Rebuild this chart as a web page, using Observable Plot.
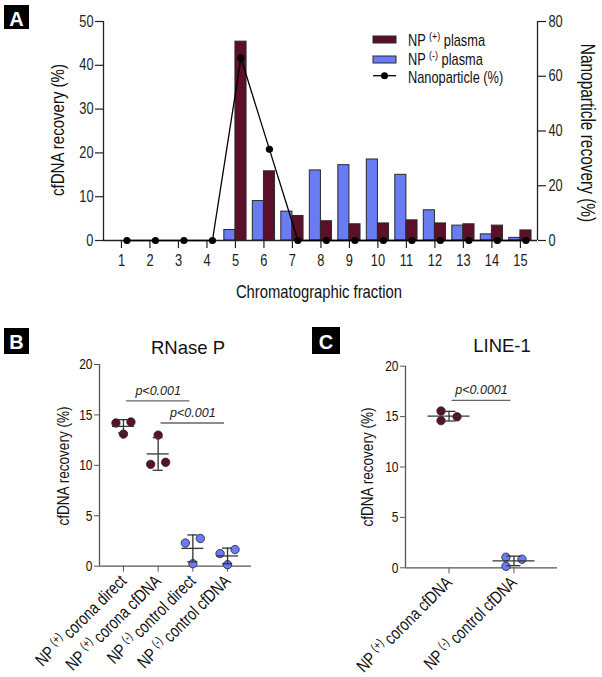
<!DOCTYPE html>
<html><head><meta charset="utf-8">
<script src="https://cdn.jsdelivr.net/npm/d3@7"></script>
<script src="https://cdn.jsdelivr.net/npm/@observablehq/plot@0.6"></script>
<style>
body{margin:0;background:#fff}
#root{position:relative;width:602px;height:677px;overflow:hidden;background:#fff}
#root svg{position:absolute}
</style></head><body><div id="root"></div>
<script>
// ---------- Panel A data ----------
const fractions = [1,2,3,4,5,6,7,8,9,10,11,12,13,14,15];
const npPlusPlasma  = [0,0,0,0,45.4,15.8,5.6,4.4,3.7,3.9,4.6,3.9,3.7,3.4,2.3];
const npMinusPlasma = [0,0,0,0,2.4,9.0,6.6,16.0,17.2,18.5,15.0,6.9,3.4,1.4,0.6];
const nanoparticleRecovery = [0,0,0,0,66.7,33.3,0,0,0,0,0,0,0,0,0];
const leftTicksA = [0,10,20,30,40,50];
const rightTicksA = [0,20,40,60,80];
const legendLabels = ["NP (+) plasma","NP (-) plasma","Nanoparticle (%)"];

// ---------- Panel B data (RNase P) ----------
const rnaseCats = ["NP (+) corona direct","NP (+) corona cfDNA","NP (-) control direct","NP (-) control cfDNA"];
const rnaseGroups = ["plus","plus","minus","minus"];
const rnaseValues = [[14.2,14.3,13.1],[13.0,10.1,10.3],[2.3,2.75,0.25],[1.25,1.65,0.15]];
const rnaseSides  = [[-1,1,0],[0,-1,1],[-1,1,0],[-1,1,0]];
const rnaseSigFrom = [0,1], rnaseSigTo = [2,3], rnaseSigY = [16.4,14.2], rnaseSigText = ["p<0.001","p<0.001"];

// ---------- Panel C data (LINE-1) ----------
const lineCats = ["NP (+) corona cfDNA","NP (-) control cfDNA"];
const lineGroups = ["plus","minus"];
const lineValues = [[15.55,14.6,14.98],[1.05,0.85,0.15]];
const lineSides  = [[-1,-1,1],[-1,1,-1]];
const lineSigFrom = [0], lineSigTo = [1], lineSigY = [16.6], lineSigText = ["p<0.0001"];
const yTicksBC = [0,5,10,15,20];

// ---------- style ----------
const MAROON = "#5c0f29", BLUE = "#6a7cf3";
const SANS = "'Liberation Sans',Arial,sans-serif";
const K = 0.8; // horizontal condensing of the narrow type
const SVGNS = "http://www.w3.org/2000/svg";
const root = document.getElementById("root");

function supify(svg){
  svg.querySelectorAll("text").forEach(t=>{
    if (t.querySelector("tspan")) return;
    const m = t.textContent.match(/^(.*?)(\([+-]\))(.*)$/);
    if (!m) return;
    while (t.firstChild) t.removeChild(t.firstChild);
    t.appendChild(document.createTextNode(m[1]));
    const s = document.createElementNS(SVGNS,"tspan");
    s.setAttribute("dy","-0.5em"); s.setAttribute("font-size","0.7em"); s.textContent = m[2];
    const r = document.createElementNS(SVGNS,"tspan");
    r.setAttribute("dy","0.35em"); r.textContent = m[3];
    t.appendChild(s); t.appendChild(r);
  });
}
// squeeze axis texts horizontally (after the svg is in the DOM)
function condenseLen(svg){
  svg.querySelectorAll('g[aria-label*="axis"] text').forEach(t=>{
    const L = t.getComputedTextLength();
    if (L>0){ t.setAttribute("textLength", (L*K).toFixed(2)); t.setAttribute("lengthAdjust","spacingAndGlyphs"); }
  });
}
function place(el,left,top){ el.style.left = left+"px"; el.style.top = top+"px"; root.appendChild(el); return el; }

// ---------- Panel A ----------
const xDomA = [0.37,15.6];
const marginsA = {width:602,height:310,marginTop:21,marginRight:65,marginBottom:70,marginLeft:103};
const bars = [];
fractions.forEach((f,i)=>{
  if (npMinusPlasma[i]>0) bars.push({f, v:npMinusPlasma[i], s:"minus"});
  if (npPlusPlasma[i]>0) bars.push({f, v:npPlusPlasma[i], s:"plus"});
});
const BW = 0.39;
const plotA = Plot.plot({
  ...marginsA,
  x:{domain:xDomA}, y:{domain:[0,50]},
  style:{background:"transparent",fontFamily:SANS,fontSize:"16px",color:"#222",overflow:"visible"},
  marks:[
    Plot.rect(bars,{x1:d=>d.s==="minus"?d.f-BW:d.f, x2:d=>d.s==="minus"?d.f:d.f+BW, y1:0, y2:"v",
      fill:d=>d.s==="minus"?BLUE:MAROON, stroke:"#2a2a2a", strokeWidth:1}),
    Plot.ruleX([xDomA[0]],{strokeWidth:1.3}),
    Plot.ruleY([0],{strokeWidth:1.3}),
    Plot.axisY({ticks:leftTicksA, tickSize:8, tickPadding:2, label:null, strokeWidth:1.2}),
    Plot.axisX({ticks:fractions, tickFormat:d=>d, tickSize:8, tickPadding:6, label:null, strokeWidth:1.2})
  ]
});
place(plotA,0,0); condenseLen(plotA);

const npData = fractions.map((f,i)=>({f, v:nanoparticleRecovery[i]}));
const plotA2 = Plot.plot({
  ...marginsA,
  x:{domain:xDomA, axis:null}, y:{domain:[0,80]},
  style:{background:"transparent",fontFamily:SANS,fontSize:"16px",color:"#222",overflow:"visible"},
  marks:[
    Plot.ruleX([xDomA[1]],{strokeWidth:1.3}),
    Plot.axisY({anchor:"right", ticks:rightTicksA, tickSize:8, tickPadding:3, label:null, strokeWidth:1.2}),
    Plot.line(npData,{x:"f", y:"v", dx:5.5, stroke:"#000", strokeWidth:1.3}),
    Plot.dot(npData,{x:"f", y:"v", dx:5.5, r:3.6, fill:"#000"})
  ]
});
place(plotA2,0,0); condenseLen(plotA2);

// ---------- Panels B & C ----------
function scatterPanel(o){
  const pts = [];
  o.values.forEach((vals,i)=>vals.forEach((v,k)=>pts.push({i, v, side:o.sides[i][k], g:o.groups[i]})));
  const summ = o.values.map((vals,i)=>({i, mean:d3.mean(vals), sd:d3.deviation(vals)}));
  const sig = o.sigFrom.map((f,k)=>({a:f, b:o.sigTo[k], y:o.sigY[k], t:o.sigText[k]}));
  const col = g => g==="plus"?MAROON:BLUE;
  const n = o.cats.length;
  const AX = "#555";
  const svg = Plot.plot({
    width:o.width, height:o.height, marginTop:o.mt, marginRight:o.mr, marginBottom:o.mb, marginLeft:o.ml,
    x:{domain:[-o.pad, n-1+o.pad]}, y:{domain:[0,20]},
    style:{background:"transparent",fontFamily:SANS,fontSize:"15px",color:"#111",overflow:"visible"},
    marks:[
      Plot.ruleX([-o.pad],{stroke:AX,strokeWidth:1.3}),
      Plot.ruleY([0],{stroke:AX,strokeWidth:1.3}),
      Plot.axisY({ticks:yTicksBC, tickSize:5, tickPadding:2, label:null, stroke:AX}),
      Plot.axisX({ticks:d3.range(n), tickFormat:i=>o.cats[i], tickRotate:-45, tickSize:6, tickPadding:6, label:null, stroke:AX, fontSize:o.xfs}),
      ...[-1,0,1].map(s=>Plot.dot(pts.filter(p=>p.side===s),{x:"i", y:"v", dx:s*o.jit, r:4.2, fill:d=>col(d.g), stroke:"#222", strokeWidth:0.8})),
      Plot.ruleX(summ,{x:"i", y1:d=>d.mean-d.sd, y2:d=>d.mean+d.sd, stroke:"#333", strokeWidth:1.3}),
      Plot.ruleY(summ,{y:"mean", x1:"i", x2:"i", insetLeft:-o.meanHalf, insetRight:-o.meanHalf, stroke:"#333", strokeWidth:1.3}),
      Plot.ruleY(summ,{y:d=>d.mean+d.sd, x1:"i", x2:"i", insetLeft:-o.capHalf, insetRight:-o.capHalf, stroke:"#333", strokeWidth:1.3}),
      Plot.ruleY(summ,{y:d=>d.mean-d.sd, x1:"i", x2:"i", insetLeft:-o.capHalf, insetRight:-o.capHalf, stroke:"#333", strokeWidth:1.3}),
      Plot.ruleY(sig,{y:"y", x1:"a", x2:"b", insetLeft:3, insetRight:3, stroke:"#666", strokeWidth:1.3}),
      Plot.text(sig,{x:d=>(d.a+d.b)/2, y:"y", text:"t", dy:-10, fontStyle:"italic", fontSize:12.5, fontFamily:SANS, fill:"#222"})
    ]
  });
  supify(svg);
  return svg;
}
const plotB = scatterPanel({cats:rnaseCats, groups:rnaseGroups, values:rnaseValues, sides:rnaseSides,
  sigFrom:rnaseSigFrom, sigTo:rnaseSigTo, sigY:rnaseSigY, sigText:rnaseSigText,
  width:300, height:347, mt:34, mr:49, mb:111.3, ml:99, pad:0.69, jit:7.5, meanHalf:11, capHalf:5, xfs:17.5});
place(plotB,0,330); condenseLen(plotB);
const plotC = scatterPanel({cats:lineCats, groups:lineGroups, values:lineValues, sides:lineSides,
  sigFrom:lineSigFrom, sigTo:lineSigTo, sigY:lineSigY, sigText:lineSigText,
  width:302, height:347, mt:35.7, mr:45, mb:109.7, ml:105, pad:0.67, jit:8, meanHalf:21, capHalf:7, xfs:17.5});
place(plotC,300,330); condenseLen(plotC);

// ---------- annotation overlay ----------
const ov = d3.select(root).append("svg").attr("width",602).attr("height",677)
  .style("left","0px").style("top","0px");
function T(x,y,s,o={}){
  const sc = o.plain ? "" : ` scale(${K},1)`;
  const t = ov.append("text").attr("transform",`translate(${x},${y}) rotate(${o.rot||0})${sc}`).text(s)
    .attr("font-family",SANS).attr("font-size",o.fs||16).attr("fill",o.fill||"#111")
    .attr("text-anchor",o.anchor||"start");
  if (o.weight) t.attr("font-weight",o.weight);
  return t;
}
function label(x,y,w,h,s,by){
  ov.append("rect").attr("x",x).attr("y",y).attr("width",w).attr("height",h).attr("fill","#000");
  T(x+w/2,by,s,{fs:20,weight:"bold",fill:"#fff",anchor:"middle",plain:true});
}
label(4,5,25,24,"A",25.5);
label(4,328,25,26,"B",348.5);
label(312,327,28,27,"C",348.5);

T(64,130,"cfDNA recovery (%)",{fs:18.8,anchor:"middle",rot:-90});
T(581,133,"Nanoparticle recovery (%)",{fs:19.3,anchor:"middle",rot:90});
T(319,298,"Chromatographic fraction",{fs:18.5,anchor:"middle"});

// legend
ov.append("rect").attr("x",373).attr("y",36).attr("width",23).attr("height",7).attr("fill",MAROON).attr("stroke","#2a2a2a");
ov.append("rect").attr("x",373).attr("y",56).attr("width",23).attr("height",7).attr("fill",BLUE).attr("stroke","#2a2a2a");
ov.append("line").attr("x1",373).attr("x2",396).attr("y1",75.7).attr("y2",75.7).attr("stroke","#000").attr("stroke-width",1.3);
ov.append("circle").attr("cx",384.5).attr("cy",75.7).attr("r",3.5).attr("fill","#000");
T(408,45.5,legendLabels[0],{fs:16});
T(408,64.5,legendLabels[1],{fs:16});
T(408,82.5,legendLabels[2],{fs:16});

T(188,354,"RNase P",{fs:18.5,anchor:"middle",plain:true});
T(502,352,"LINE-1",{fs:18.5,anchor:"middle",plain:true});
T(69,466,"cfDNA recovery (%)",{fs:17,anchor:"middle",rot:-90});
T(373,467,"cfDNA recovery (%)",{fs:17,anchor:"middle",rot:-90});
supify(ov.node());
</script></body></html>
